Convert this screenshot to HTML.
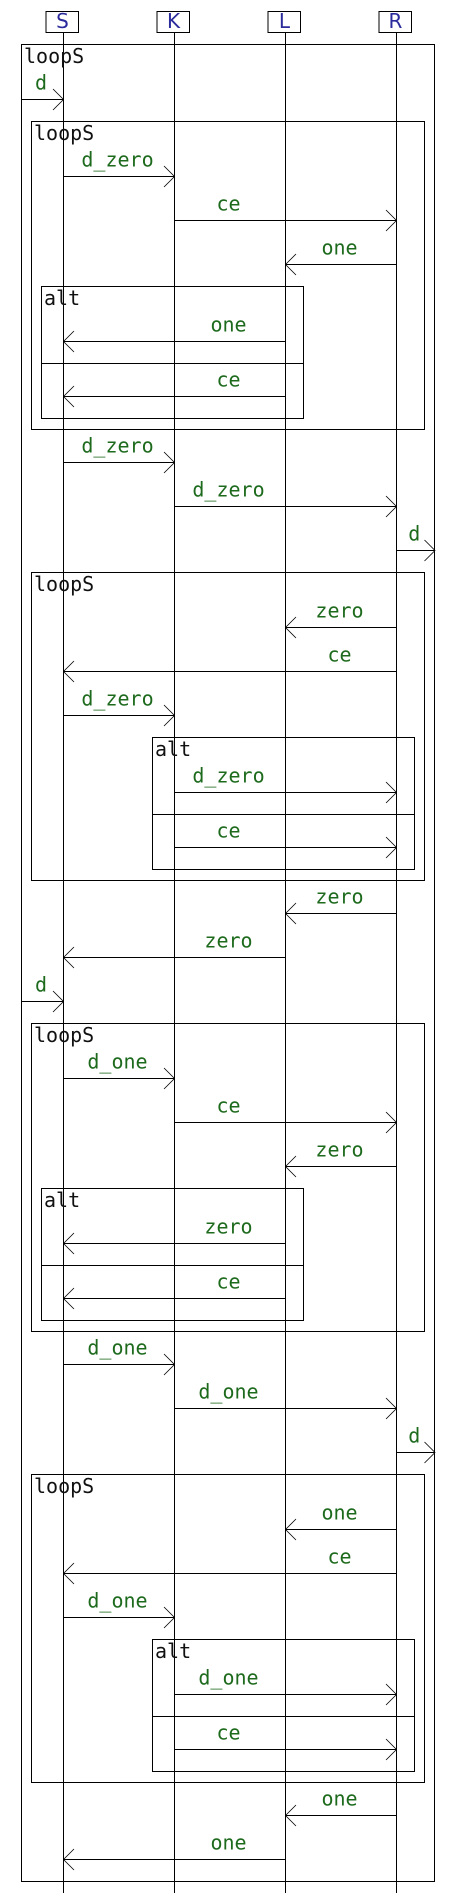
<!DOCTYPE html>
<html><head><meta charset="utf-8">
<style>
html,body{margin:0;padding:0;background:#fff;}
svg{display:block;}
.lbl{font-family:"DejaVu Sans Mono","Liberation Mono",monospace;font-size:20px;fill:#1d6a1d;}
.frm{font-family:"DejaVu Sans Mono","Liberation Mono",monospace;font-size:20px;fill:#111;}
.part{font-family:"DejaVu Sans","Liberation Sans",sans-serif;font-size:20px;fill:#2b2b9c;}
</style></head>
<body>
<svg id="d" width="455" height="1903" viewBox="0 0 455 1903" xmlns="http://www.w3.org/2000/svg"></svg>
<script>
// participants (index: 0=S,1=K,2=L,3=R; -1 = left boundary, 4 = right boundary)
const participants = ["S","K","L","R"];
// message rows: from, to, label, row y
const msgFrom  = [-1,0,1,3,2,2,0,1,3,3,3,0,1,1,3,2,-1,0,1,3,2,2,0,1,3,3,3,0,1,1,3,2];
const msgTo    = [0,1,3,2,0,0,1,3,4,2,0,1,3,3,2,0,0,1,3,2,0,0,1,3,4,2,0,1,3,3,2,0];
const msgLabel = ["d","d_zero","ce","one","one","ce","d_zero","d_zero","d","zero","ce","d_zero","d_zero","ce","zero","zero","d","d_one","ce","zero","zero","ce","d_one","d_one","d","one","ce","d_one","d_one","ce","one","one"];
const msgY     = [99,176,220,264,341,396,462,506,550,627,671,715,792,847,913,957,1001,1078,1122,1166,1243,1298,1364,1408,1452,1529,1573,1617,1694,1749,1815,1859];
// frames: label, left x, right x, top, bottom, separator y (0 = none)
const frameLabel = ["loopS","loopS","alt","loopS","alt","loopS","alt","loopS","alt"];
const frameX1 = [21,31,41,31,152,31,41,31,152];
const frameX2 = [434,424,303,424,414,424,303,424,414];
const frameY1 = [44,121,286,572,737,1023,1188,1474,1639];
const frameY2 = [1881,429,418,880,869,1331,1320,1782,1771];
const frameSep = [0,0,363,0,814,0,1265,0,1716];

const NS="http://www.w3.org/2000/svg";
const svg=document.getElementById('d');
function px(i){ if(i<0) return 21.5; if(i>=participants.length) return 435; return 63.5 + i*111; }
function mk(tag,attrs){const e=document.createElementNS(NS,tag);for(const k in attrs)e.setAttribute(k,attrs[k]);svg.appendChild(e);return e;}

// lifelines
participants.forEach((p,i)=>{
  const x=px(i);
  const l=mk('line',{x1:x,y1:32,x2:x,y2:1893,stroke:'#000','stroke-width':1});
  
  
  const r=mk('rect',{x:x-17.5,y:11.5,width:32.5,height:21,fill:'#fff',stroke:'#000','stroke-width':1});
  
  
  const t=mk('text',{x:x-1,y:28,'text-anchor':'middle',class:'part'});
  t.textContent=p;
  
  
});

// frames
frameLabel.forEach((lab,i)=>{
  const r=mk('rect',{x:frameX1[i]+0.5,y:frameY1[i]+0.5,width:frameX2[i]-frameX1[i],height:frameY2[i]-frameY1[i],fill:'none',stroke:'#000','stroke-width':1});
  
  
  const t=mk('text',{x:frameX1[i]+3,y:frameY1[i]+19,class:'frm'});
  t.textContent=lab;
  
  
  if(frameSep[i]){
    const s=mk('line',{x1:frameX1[i]+0.5,x2:frameX2[i]+0.5,y1:frameSep[i]+0.5,y2:frameSep[i]+0.5,stroke:'#000','stroke-width':1});
    
    
  }
});

// messages
msgLabel.forEach((lab,i)=>{
  const f=msgFrom[i], t=msgTo[i];
  const x1=px(f), x2=px(t), y=msgY[i]+0.5;
  const dir = x2>x1?1:-1;
  const l=mk('line',{x1:x1,y1:y,x2:x2,y2:y,stroke:'#000','stroke-width':1});
  
  
  const h=mk('path',{d:`M${x2-dir*10.5},${y-10.5} L${x2},${y} L${x2-dir*10.5},${y+10.5}`,fill:'none',stroke:'#000','stroke-width':0.8});
  
  
  const next = f<0 ? 0 : (t>=participants.length ? t : f+dir);
  const cx = f<0 ? (px(-1)+px(0))/2 : (px(f)+px(next))/2;
  const tx=mk('text',{x:cx-1.5,y:msgY[i]-9.5,'text-anchor':'middle',class:'lbl'});
  tx.textContent=lab;
  
  
});
</script>
</body></html>
